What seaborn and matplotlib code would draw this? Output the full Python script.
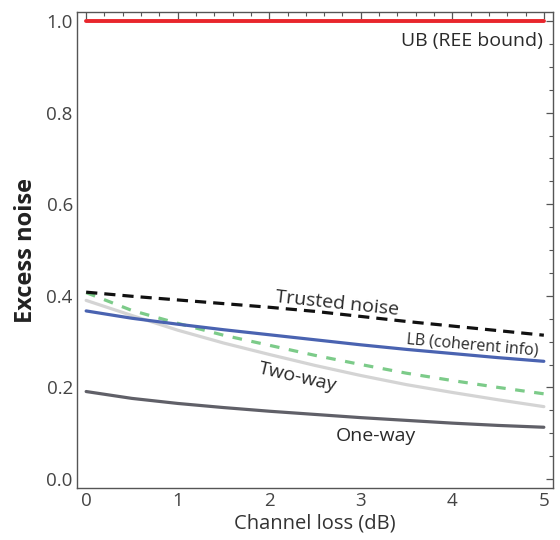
import matplotlib
matplotlib.use("Agg")
import matplotlib.pyplot as plt
from matplotlib.ticker import MultipleLocator
import seaborn as sns
import pandas as pd

# channel loss (dB) sample points
loss = [0, 0.5, 1, 1.5, 2, 2.5, 3, 3.5, 4, 4.5, 5]

ub_ree = [1.0] * 11
trusted = [0.408, 0.399, 0.391, 0.383, 0.375, 0.366, 0.355, 0.344, 0.334, 0.324, 0.314]
lb_coherent = [0.367, 0.351, 0.338, 0.326, 0.315, 0.304, 0.293, 0.283, 0.274, 0.265, 0.257]
green_dash = [0.407, 0.368, 0.340, 0.314, 0.292, 0.270, 0.250, 0.231, 0.215, 0.200, 0.186]
two_way = [0.390, 0.357, 0.325, 0.297, 0.272, 0.248, 0.226, 0.206, 0.189, 0.173, 0.158]
one_way = [0.191, 0.176, 0.165, 0.156, 0.148, 0.141, 0.134, 0.128, 0.122, 0.117, 0.113]

sns.set_theme(style="white")
plt.rcParams['font.family'] = ['Open Sans', 'DejaVu Sans']

df = pd.DataFrame({"loss": loss, "ub": ub_ree, "trusted": trusted,
                   "lb": lb_coherent, "green": green_dash,
                   "two": two_way, "one": one_way})

fig = plt.figure(figsize=(5.6, 5.4), dpi=100)
ax = fig.add_axes([0.1375, 0.096, 0.85, 0.882])

lw = 2.3
sns.lineplot(data=df, x="loss", y="one", color="#606068", lw=lw, ax=ax)
sns.lineplot(data=df, x="loss", y="two", color="#d4d4d4", lw=lw, ax=ax)
sns.lineplot(data=df, x="loss", y="green", color="#7ccb89", lw=lw, ax=ax)
ax.lines[-1].set_dashes([3, 3])
sns.lineplot(data=df, x="loss", y="lb", color="#4a63b1", lw=lw, ax=ax)
sns.lineplot(data=df, x="loss", y="trusted", color="#111111", lw=lw, ax=ax)
ax.lines[-1].set_dashes([3.5, 2.2])
sns.lineplot(data=df, x="loss", y="ub", color="#e8262c", lw=2.8, ax=ax)

ax.set_xlim(-0.1, 5.1)
ax.set_ylim(-0.02, 1.02)
ax.xaxis.set_major_locator(MultipleLocator(1))
ax.xaxis.set_minor_locator(MultipleLocator(0.2))
ax.yaxis.set_minor_locator(MultipleLocator(0.05))
ax.set_yticks([0, 0.2, 0.4, 0.6, 0.8, 1.0])
ax.set_yticklabels(["0.0", "0.2", "0.4", "0.6", "0.8", "1.0"])

ax.tick_params(which="both", direction="in", top=True, right=True,
               color="#555555", labelcolor="#444444", labelsize=13.5)
ax.tick_params(which="major", length=5, width=0.9, pad=3)
ax.tick_params(which="minor", length=3, width=0.8)
for s in ax.spines.values():
    s.set_color("#555555")
    s.set_linewidth(1.0)

ax.set_xlabel("Channel loss (dB)", fontsize=14.5, color="#333333", labelpad=2)
ax.set_ylabel("Excess noise", fontsize=17, fontweight="bold", color="#222222", labelpad=6)

tc = "#2a2a2a"
ax.text(4.99, 0.957, "UB (REE bound)", ha="right", va="center", fontsize=14, color=tc)
ax.text(2.74, 0.384, "Trusted noise", ha="center", va="center", fontsize=14,
        color=tc, rotation=-6)
ax.text(4.22, 0.293, "LB (coherent info)", ha="center", va="center", fontsize=11.5,
        color=tc, rotation=-5)
ax.text(2.31, 0.223, "Two-way", ha="center", va="center", fontsize=14,
        color=tc, rotation=-13)
ax.text(3.17, 0.094, "One-way", ha="center", va="center", fontsize=14, color=tc)

fig.savefig("out.png", dpi=100)
